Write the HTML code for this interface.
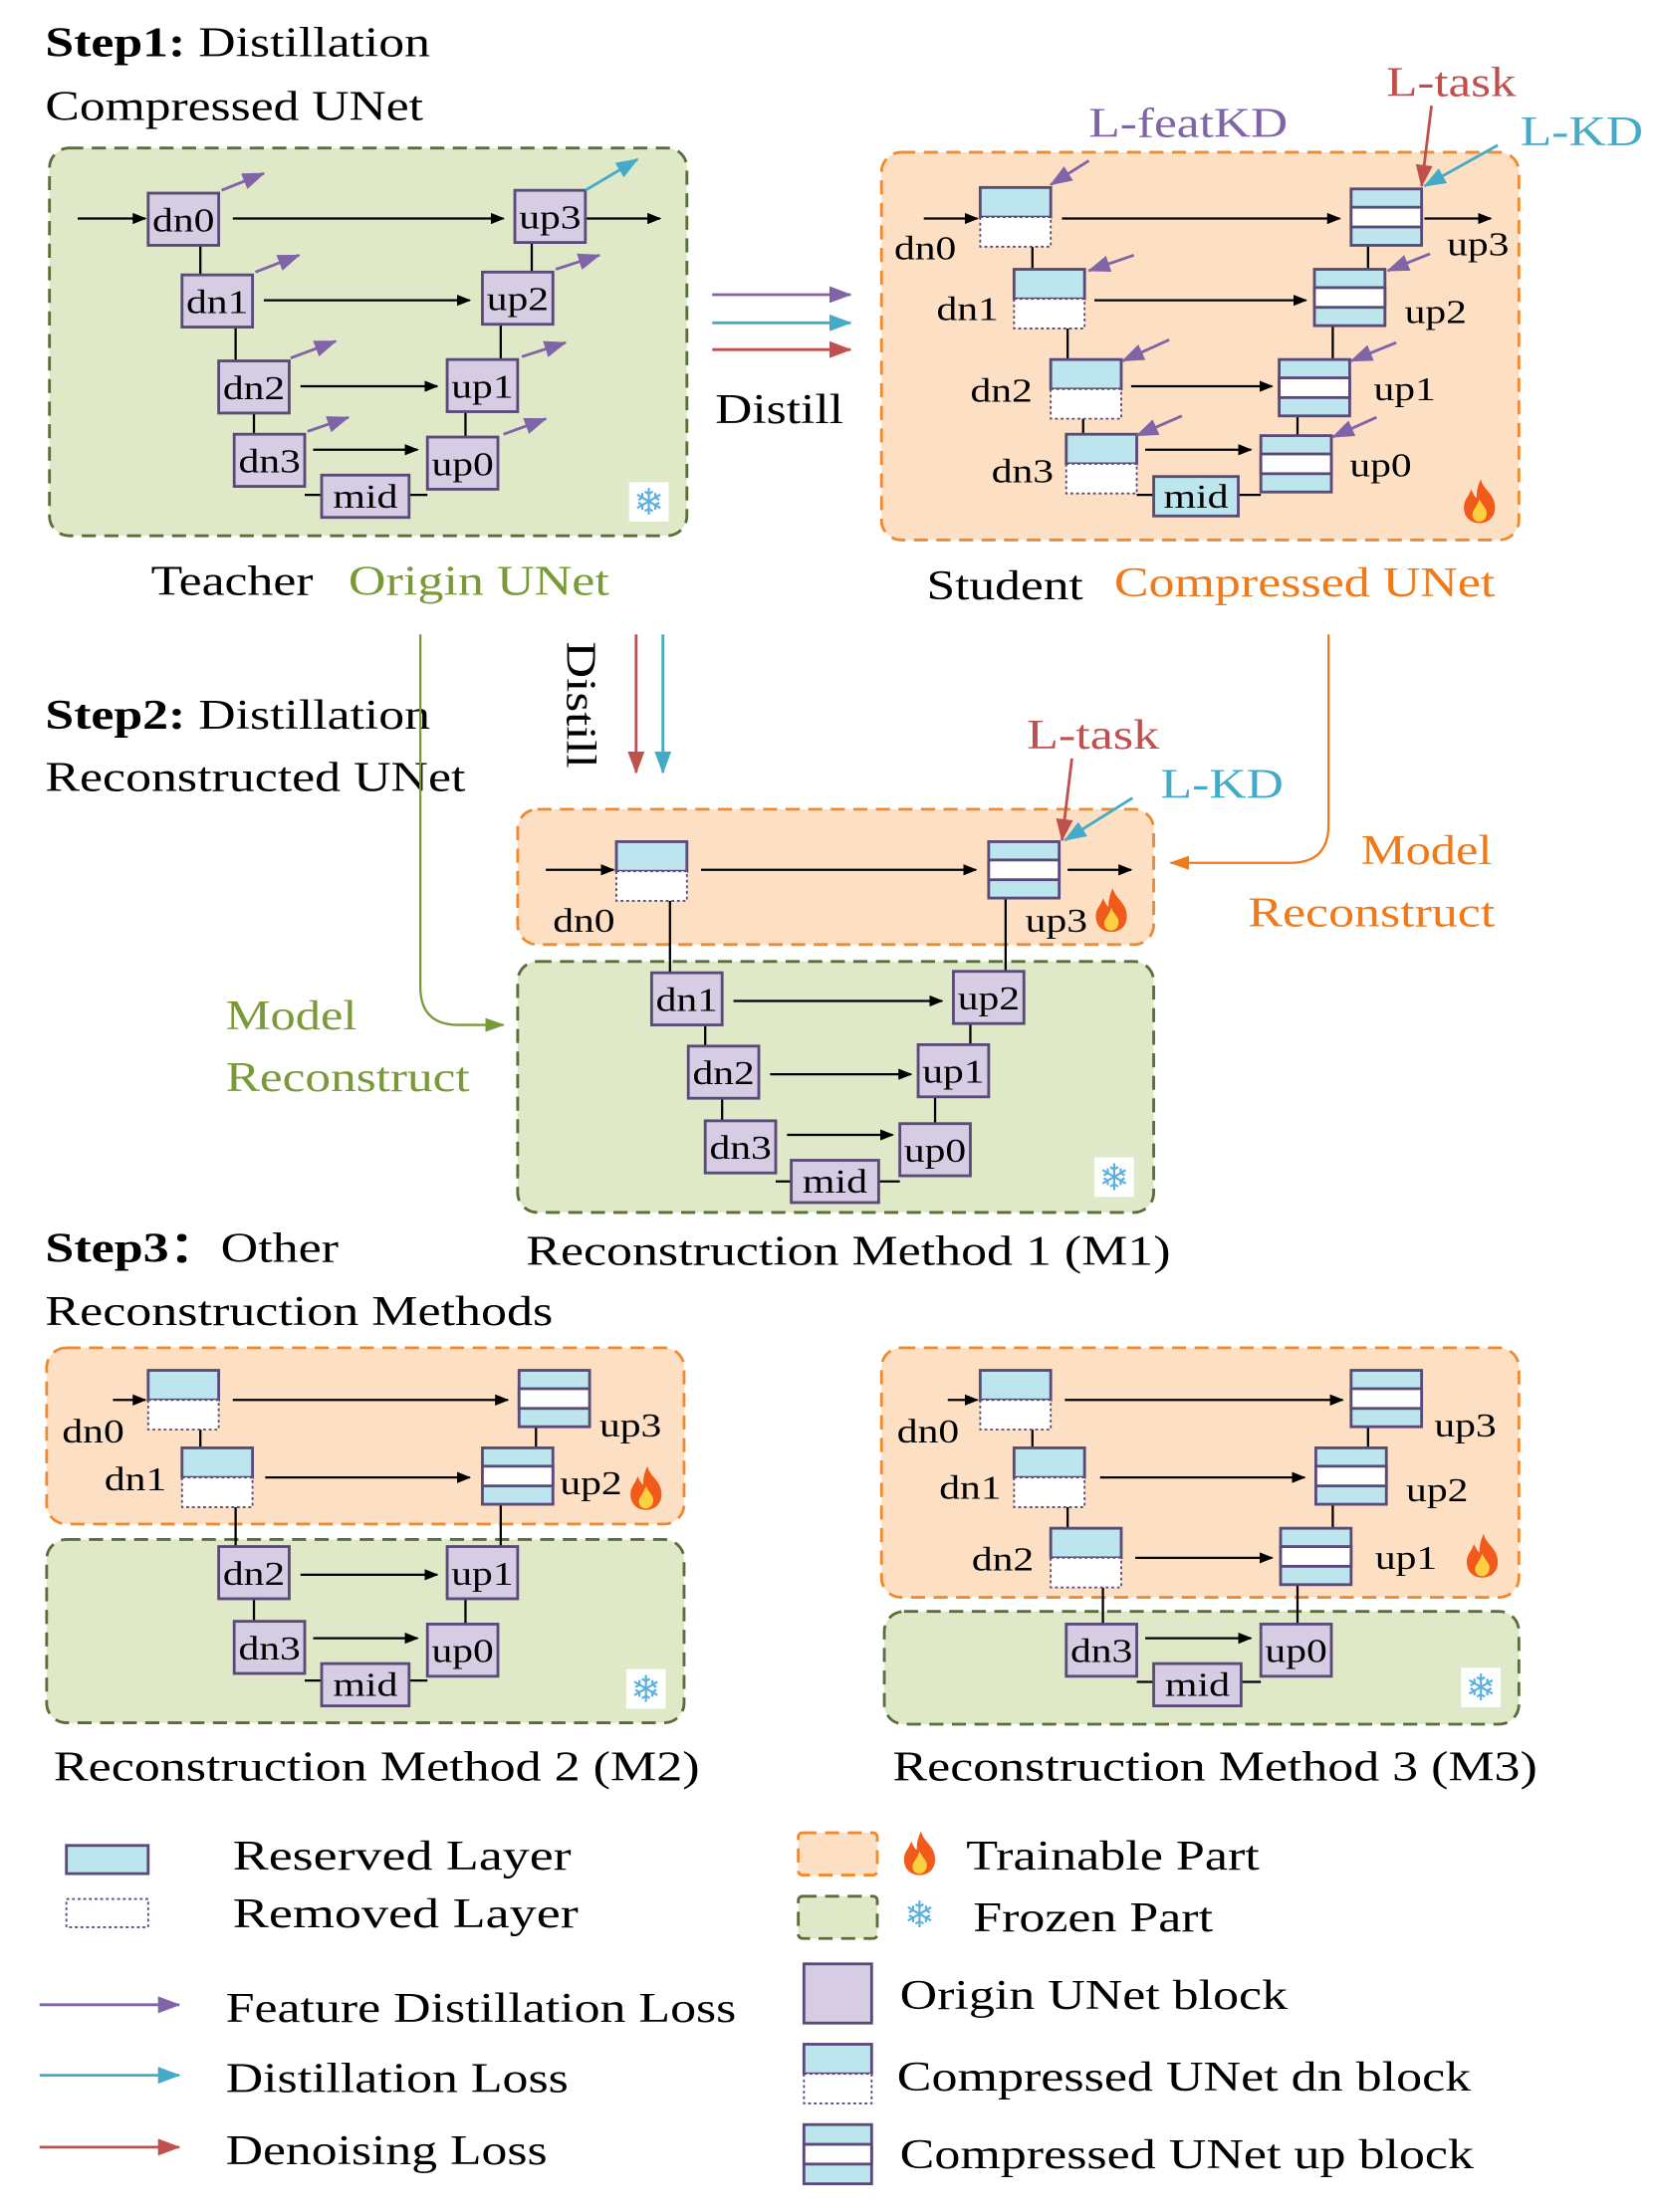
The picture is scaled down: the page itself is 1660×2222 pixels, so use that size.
<!DOCTYPE html>
<html><head><meta charset="utf-8"><style>html,body{margin:0;padding:0;background:#fff}svg{display:block}text{font-family:"Liberation Serif",serif}</style></head><body>
<svg width="1660" height="2222" viewBox="0 0 1172 1569" xmlns="http://www.w3.org/2000/svg">
<defs>
<marker id="ak" markerWidth="10" markerHeight="8" refX="9" refY="4" orient="auto" markerUnits="userSpaceOnUse"><path d="M0,0L10,4L0,8z" fill="#000"/></marker>
<marker id="ap" markerWidth="16" markerHeight="12" refX="15" refY="6" orient="auto" markerUnits="userSpaceOnUse"><path d="M0,0L16,6L0,12z" fill="#8064a8"/></marker>
<marker id="ac" markerWidth="16" markerHeight="12" refX="15" refY="6" orient="auto" markerUnits="userSpaceOnUse"><path d="M0,0L16,6L0,12z" fill="#44aac8"/></marker>
<marker id="ar" markerWidth="16" markerHeight="12" refX="15" refY="6" orient="auto" markerUnits="userSpaceOnUse"><path d="M0,0L16,6L0,12z" fill="#c0504d"/></marker>
<marker id="ag" markerWidth="14" markerHeight="10" refX="13" refY="5" orient="auto" markerUnits="userSpaceOnUse"><path d="M0,0L14,5L0,10z" fill="#7a9a3a"/></marker>
<marker id="ao" markerWidth="14" markerHeight="10" refX="13" refY="5" orient="auto" markerUnits="userSpaceOnUse"><path d="M0,0L14,5L0,10z" fill="#f07a1a"/></marker>
<g id="cd"><rect width="50" height="21" fill="#bde5ee" stroke="#5a4a78" stroke-width="2"/><rect y="21" width="50" height="21" fill="#fff" stroke="#5a4a78" stroke-width="1.3" stroke-dasharray="2,2"/></g>
<g id="cu"><rect width="50" height="40" fill="#bde5ee" stroke="#5a4a78" stroke-width="2"/><rect y="13" width="50" height="14" fill="#fff" stroke="#5a4a78" stroke-width="2"/></g>
<g id="fl"><path d="M12,0C14,8 22,10 22,20C22,27 17,31 11,31C5,31 0,27 0,20C0,14 4,12 5,7C7,11 8,13 9,13C9,8 10,4 12,0z" fill="#f05a1a"/><path d="M11,14C13,19 17,21 16,25C16,28 13,30 11,30C8,30 6,28 6,25C6,22 9,20 11,14z" fill="#fcd040"/></g>
<g id="sn"><rect x="-14" y="-14" width="28" height="28" fill="#fff"/><text x="0" y="9" font-size="26" text-anchor="middle" fill="#5ab0e0" style="font-family:'DejaVu Sans',sans-serif">❄</text></g>
</defs>
<style>.b{fill:#d6cde4;stroke:#5a4a78;stroke-width:2}.t{font-size:30px}.s{font-size:24px}.L{stroke:#000;stroke-width:1.6;fill:none}.A{stroke:#000;stroke-width:1.6;fill:none;marker-end:url(#ak)}.P{stroke:#8064a8;stroke-width:2;marker-end:url(#ap)}.C{stroke:#44aac8;stroke-width:2;marker-end:url(#ac)}.R{stroke:#c0504d;stroke-width:2;marker-end:url(#ar)}.O{fill:#fde0c4;stroke:#f08a30;stroke-width:2;stroke-dasharray:10,6}.G{fill:#dfe9c8;stroke:#5a6e3a;stroke-width:2;stroke-dasharray:10,6}</style>

<!-- Step1 headings -->
<text x="32" y="40" class="t" textLength="273" lengthAdjust="spacingAndGlyphs"><tspan font-weight="bold">Step1:</tspan> Distillation</text>
<text x="32" y="85" class="t" textLength="268" lengthAdjust="spacingAndGlyphs">Compressed UNet</text>

<!-- Teacher -->
<rect x="35" y="105" width="452" height="275" rx="14" class="G"/>
<path class="L" d="M142,174V195M167,232V256M180,293V308M216,351H228M290,351H303M377,172V193M355,230V255M330,292V310"/>
<path class="A" d="M55,155H103"/><path class="A" d="M165,155H357"/><path class="A" d="M415,155H468"/><path class="A" d="M187,213H333"/><path class="A" d="M213,274H310"/><path class="A" d="M222,319H296"/>
<rect x="105" y="137" width="50" height="37" class="b"/><text x="108" y="164" class="s" textLength="44" lengthAdjust="spacingAndGlyphs">dn0</text>
<rect x="129" y="195" width="50" height="37" class="b"/><text x="132" y="222" class="s" textLength="44" lengthAdjust="spacingAndGlyphs">dn1</text>
<rect x="155" y="256" width="50" height="37" class="b"/><text x="158" y="283" class="s" textLength="44" lengthAdjust="spacingAndGlyphs">dn2</text>
<rect x="166" y="308" width="50" height="37" class="b"/><text x="169" y="335" class="s" textLength="44" lengthAdjust="spacingAndGlyphs">dn3</text>
<rect x="228" y="337" width="62" height="30" class="b"/><text x="236" y="360" class="s" textLength="46" lengthAdjust="spacingAndGlyphs">mid</text>
<rect x="303" y="310" width="50" height="37" class="b"/><text x="306" y="337" class="s" textLength="44" lengthAdjust="spacingAndGlyphs">up0</text>
<rect x="317" y="255" width="50" height="37" class="b"/><text x="320" y="282" class="s" textLength="44" lengthAdjust="spacingAndGlyphs">up1</text>
<rect x="342" y="193" width="50" height="37" class="b"/><text x="345" y="220" class="s" textLength="44" lengthAdjust="spacingAndGlyphs">up2</text>
<rect x="365" y="135" width="50" height="37" class="b"/><text x="368" y="162" class="s" textLength="44" lengthAdjust="spacingAndGlyphs">up3</text>
<path class="P" d="M157,135L187,123"/><path class="P" d="M181,193L212,181"/><path class="P" d="M206,254L238,242"/><path class="P" d="M218,306L247,296"/><path class="P" d="M357,308L387,297"/><path class="P" d="M370,253L401,243"/><path class="P" d="M394,191L425,181"/>
<path class="C" d="M415,135L452,113"/>
<use href="#sn" x="460" y="356"/>
<text x="107" y="422" class="t" textLength="115" lengthAdjust="spacingAndGlyphs">Teacher</text><text x="247" y="422" class="t" fill="#7a9a3a" textLength="185" lengthAdjust="spacingAndGlyphs">Origin UNet</text>

<!-- distill arrows -->
<path class="P" d="M505,209H603"/><path class="C" d="M505,229H603"/><path class="R" d="M505,248H603"/>
<text x="507" y="300" class="t" textLength="91" lengthAdjust="spacingAndGlyphs">Distill</text>

<!-- Student -->
<rect x="625" y="108" width="452" height="275" rx="14" class="O"/>
<path class="L" d="M732,175V191M757,233V255M768,297V308M806,351H818M878,351H894M970,174V191M945,231V255M920,295V309"/>
<path class="A" d="M655,155H693"/><path class="A" d="M753,155H950"/><path class="A" d="M1010,155H1057"/><path class="A" d="M776,213H926"/><path class="A" d="M802,274H902"/><path class="A" d="M812,319H887"/>
<use href="#cd" x="695" y="133"/><use href="#cd" x="719" y="191"/><use href="#cd" x="745" y="255"/><use href="#cd" x="756" y="308"/>
<rect x="818" y="338" width="60" height="28" fill="#bde5ee" stroke="#5a4a78" stroke-width="2"/><text x="825" y="360" class="s" textLength="46" lengthAdjust="spacingAndGlyphs">mid</text>
<use href="#cu" x="958" y="134"/><use href="#cu" x="932" y="191"/><use href="#cu" x="907" y="255"/><use href="#cu" x="894" y="309"/>
<text x="634" y="184" class="s" textLength="44" lengthAdjust="spacingAndGlyphs">dn0</text><text x="664" y="227" class="s" textLength="44" lengthAdjust="spacingAndGlyphs">dn1</text><text x="688" y="285" class="s" textLength="44" lengthAdjust="spacingAndGlyphs">dn2</text><text x="703" y="342" class="s" textLength="44" lengthAdjust="spacingAndGlyphs">dn3</text>
<text x="1026" y="181" class="s" textLength="44" lengthAdjust="spacingAndGlyphs">up3</text><text x="996" y="229" class="s" textLength="44" lengthAdjust="spacingAndGlyphs">up2</text><text x="974" y="284" class="s" textLength="44" lengthAdjust="spacingAndGlyphs">up1</text><text x="957" y="338" class="s" textLength="44" lengthAdjust="spacingAndGlyphs">up0</text>
<path class="P" d="M772,114L745,131"/><path class="P" d="M804,181L772,192"/><path class="P" d="M829,241L796,256"/><path class="P" d="M838,295L806,309"/><path class="P" d="M1014,180L984,192"/><path class="P" d="M990,243L958,256"/><path class="P" d="M976,296L945,310"/>
<path class="R" d="M1015,75L1008,132"/><path class="C" d="M1062,103L1010,132"/>
<use href="#fl" x="1038" y="340"/>
<text x="772" y="97" class="t" fill="#8064a8" textLength="141" lengthAdjust="spacingAndGlyphs">L-featKD</text>
<text x="983" y="68" class="t" fill="#c0504d" textLength="92" lengthAdjust="spacingAndGlyphs">L-task</text>
<text x="1078" y="103" class="t" fill="#44aac8" textLength="87" lengthAdjust="spacingAndGlyphs">L-KD</text>
<text x="657" y="425" class="t" textLength="111" lengthAdjust="spacingAndGlyphs">Student</text><text x="790" y="423" class="t" fill="#f07a1a" textLength="270" lengthAdjust="spacingAndGlyphs">Compressed UNet</text>

<!-- Step2 -->
<text x="32" y="517" class="t" textLength="273" lengthAdjust="spacingAndGlyphs"><tspan font-weight="bold">Step2:</tspan> Distillation</text>
<text x="32" y="561" class="t" textLength="298" lengthAdjust="spacingAndGlyphs">Reconstructed UNet</text>
<path class="R" d="M451,450V548"/><path class="C" d="M470,450V548"/>
<text transform="translate(402,455) rotate(90)" class="t" textLength="90" lengthAdjust="spacingAndGlyphs">Distill</text>
<path d="M298,450V700Q298,727 325,727H357" stroke="#7a9a3a" stroke-width="1.6" fill="none" marker-end="url(#ag)"/>
<path d="M942,450V585Q942,612 915,612H830" stroke="#f07a1a" stroke-width="1.6" fill="none" marker-end="url(#ao)"/>
<text x="160" y="730" class="t" fill="#7a9a3a" textLength="93" lengthAdjust="spacingAndGlyphs">Model</text><text x="160" y="774" class="t" fill="#7a9a3a" textLength="173" lengthAdjust="spacingAndGlyphs">Reconstruct</text>
<text x="965" y="613" class="t" fill="#f07a1a" textLength="93" lengthAdjust="spacingAndGlyphs">Model</text><text x="885" y="657" class="t" fill="#f07a1a" textLength="175" lengthAdjust="spacingAndGlyphs">Reconstruct</text>
<text x="728" y="531" class="t" fill="#c0504d" textLength="94" lengthAdjust="spacingAndGlyphs">L-task</text><text x="823" y="566" class="t" fill="#44aac8" textLength="87" lengthAdjust="spacingAndGlyphs">L-KD</text>

<rect x="367" y="574" width="451" height="96" rx="14" class="O"/>
<rect x="367" y="682" width="451" height="178" rx="14" class="G"/>
<path class="R" d="M760,538L753,596"/><path class="C" d="M803,566L755,596"/>
<path class="L" d="M475,639V690M713,637V689M500,727V742M512,779V795M550,838H561M623,838H638M688,726V741M663,778V797"/>
<path class="A" d="M387,617H435"/><path class="A" d="M497,617H692"/><path class="A" d="M757,617H802"/><path class="A" d="M520,710H668"/><path class="A" d="M546,762H646"/><path class="A" d="M558,805H633"/>
<use href="#cd" x="437" y="597"/><use href="#cu" x="701" y="597"/>
<text x="392" y="661" class="s" textLength="44" lengthAdjust="spacingAndGlyphs">dn0</text><text x="727" y="661" class="s" textLength="44" lengthAdjust="spacingAndGlyphs">up3</text>
<use href="#fl" x="777" y="630"/>
<rect x="462" y="690" width="50" height="37" class="b"/><text x="465" y="717" class="s" textLength="44" lengthAdjust="spacingAndGlyphs">dn1</text>
<rect x="488" y="742" width="50" height="37" class="b"/><text x="491" y="769" class="s" textLength="44" lengthAdjust="spacingAndGlyphs">dn2</text>
<rect x="500" y="795" width="50" height="37" class="b"/><text x="503" y="822" class="s" textLength="44" lengthAdjust="spacingAndGlyphs">dn3</text>
<rect x="561" y="823" width="62" height="30" class="b"/><text x="569" y="846" class="s" textLength="46" lengthAdjust="spacingAndGlyphs">mid</text>
<rect x="638" y="797" width="50" height="37" class="b"/><text x="641" y="824" class="s" textLength="44" lengthAdjust="spacingAndGlyphs">up0</text>
<rect x="651" y="741" width="50" height="37" class="b"/><text x="654" y="768" class="s" textLength="44" lengthAdjust="spacingAndGlyphs">up1</text>
<rect x="676" y="689" width="50" height="37" class="b"/><text x="679" y="716" class="s" textLength="44" lengthAdjust="spacingAndGlyphs">up2</text>
<use href="#sn" x="790" y="835"/>
<text x="373" y="897" class="t" textLength="457" lengthAdjust="spacingAndGlyphs">Reconstruction Method 1 (M1)</text>

<!-- Step3 -->
<text x="32" y="895" class="t" textLength="208" lengthAdjust="spacingAndGlyphs"><tspan font-weight="bold">Step3：</tspan>Other</text>
<text x="32" y="940" class="t" textLength="360" lengthAdjust="spacingAndGlyphs">Reconstruction Methods</text>

<!-- M2 -->
<rect x="33" y="956" width="452" height="125" rx="14" class="O"/>
<rect x="33" y="1092" width="452" height="130" rx="14" class="G"/>
<path class="L" d="M142,1014V1027M167,1069V1097M180,1134V1150M216,1192H228M290,1192H303M380,1012V1027M355,1067V1097M330,1134V1152"/>
<path class="A" d="M80,993H103"/><path class="A" d="M165,993H360"/><path class="A" d="M188,1048H333"/><path class="A" d="M213,1117H310"/><path class="A" d="M222,1162H296"/>
<use href="#cd" x="105" y="972"/><use href="#cd" x="129" y="1027"/><use href="#cu" x="368" y="972"/><use href="#cu" x="342" y="1027"/>
<text x="44" y="1023" class="s" textLength="44" lengthAdjust="spacingAndGlyphs">dn0</text><text x="74" y="1057" class="s" textLength="44" lengthAdjust="spacingAndGlyphs">dn1</text><text x="425" y="1019" class="s" textLength="44" lengthAdjust="spacingAndGlyphs">up3</text><text x="397" y="1060" class="s" textLength="44" lengthAdjust="spacingAndGlyphs">up2</text>
<use href="#fl" x="447" y="1040"/>
<rect x="155" y="1097" width="50" height="37" class="b"/><text x="158" y="1124" class="s" textLength="44" lengthAdjust="spacingAndGlyphs">dn2</text>
<rect x="166" y="1150" width="50" height="37" class="b"/><text x="169" y="1177" class="s" textLength="44" lengthAdjust="spacingAndGlyphs">dn3</text>
<rect x="228" y="1180" width="62" height="30" class="b"/><text x="236" y="1203" class="s" textLength="46" lengthAdjust="spacingAndGlyphs">mid</text>
<rect x="303" y="1152" width="50" height="37" class="b"/><text x="306" y="1179" class="s" textLength="44" lengthAdjust="spacingAndGlyphs">up0</text>
<rect x="317" y="1097" width="50" height="37" class="b"/><text x="320" y="1124" class="s" textLength="44" lengthAdjust="spacingAndGlyphs">up1</text>
<use href="#sn" x="458" y="1198"/>
<text x="38" y="1263" class="t" textLength="458" lengthAdjust="spacingAndGlyphs">Reconstruction Method 2 (M2)</text>

<!-- M3 -->
<rect x="625" y="956" width="452" height="177" rx="14" class="O"/>
<rect x="627" y="1143" width="450" height="80" rx="14" class="G"/>
<path class="L" d="M732,1014V1027M757,1069V1084M782,1126V1152M806,1193H818M880,1193H894M970,1012V1027M945,1067V1084M920,1124V1152"/>
<path class="A" d="M672,993H693"/><path class="A" d="M755,993H952"/><path class="A" d="M780,1048H925"/><path class="A" d="M805,1105H902"/><path class="A" d="M812,1162H887"/>
<use href="#cd" x="695" y="972"/><use href="#cd" x="719" y="1027"/><use href="#cd" x="745" y="1084"/>
<use href="#cu" x="958" y="972"/><use href="#cu" x="933" y="1027"/><use href="#cu" x="908" y="1084"/>
<text x="636" y="1023" class="s" textLength="44" lengthAdjust="spacingAndGlyphs">dn0</text><text x="666" y="1063" class="s" textLength="44" lengthAdjust="spacingAndGlyphs">dn1</text><text x="689" y="1114" class="s" textLength="44" lengthAdjust="spacingAndGlyphs">dn2</text>
<text x="1017" y="1019" class="s" textLength="44" lengthAdjust="spacingAndGlyphs">up3</text><text x="997" y="1065" class="s" textLength="44" lengthAdjust="spacingAndGlyphs">up2</text><text x="975" y="1113" class="s" textLength="44" lengthAdjust="spacingAndGlyphs">up1</text>
<use href="#fl" x="1040" y="1088"/>
<rect x="756" y="1152" width="50" height="37" class="b"/><text x="759" y="1179" class="s" textLength="44" lengthAdjust="spacingAndGlyphs">dn3</text>
<rect x="818" y="1180" width="62" height="30" class="b"/><text x="826" y="1203" class="s" textLength="46" lengthAdjust="spacingAndGlyphs">mid</text>
<rect x="894" y="1152" width="50" height="37" class="b"/><text x="897" y="1179" class="s" textLength="44" lengthAdjust="spacingAndGlyphs">up0</text>
<use href="#sn" x="1050" y="1197"/>
<text x="633" y="1263" class="t" textLength="457" lengthAdjust="spacingAndGlyphs">Reconstruction Method 3 (M3)</text>

<!-- Legend -->
<rect x="47" y="1309" width="58" height="20" fill="#bde5ee" stroke="#5a4a78" stroke-width="2"/>
<rect x="47" y="1347" width="58" height="20" fill="#fff" stroke="#5a4a78" stroke-width="1.3" stroke-dasharray="2,2"/>
<text x="165" y="1326" class="t" textLength="240" lengthAdjust="spacingAndGlyphs">Reserved  Layer</text><text x="165" y="1367" class="t" textLength="245" lengthAdjust="spacingAndGlyphs">Removed  Layer</text>
<path class="P" d="M28,1422H127"/><path class="C" d="M28,1472H127"/><path class="R" d="M28,1523H127"/>
<text x="160" y="1434" class="t" textLength="362" lengthAdjust="spacingAndGlyphs">Feature Distillation Loss</text>
<text x="160" y="1484" class="t" textLength="243" lengthAdjust="spacingAndGlyphs">Distillation Loss</text>
<text x="160" y="1535" class="t" textLength="228" lengthAdjust="spacingAndGlyphs">Denoising Loss</text>
<rect x="566" y="1300" width="56" height="30" rx="3" class="O"/><use href="#fl" x="641" y="1299"/>
<text x="685" y="1326" class="t" textLength="208" lengthAdjust="spacingAndGlyphs">Trainable Part</text>
<rect x="566" y="1345" width="56" height="30" rx="3" class="G"/><use href="#sn" x="652" y="1358"/>
<text x="690" y="1370" class="t" textLength="170" lengthAdjust="spacingAndGlyphs">Frozen Part</text>
<rect x="570" y="1393" width="48" height="42" class="b"/><text x="638" y="1425" class="t" textLength="275" lengthAdjust="spacingAndGlyphs">Origin UNet block</text>
<rect x="570" y="1450" width="48" height="21" fill="#bde5ee" stroke="#5a4a78" stroke-width="2"/><rect x="570" y="1471" width="48" height="21" fill="#fff" stroke="#5a4a78" stroke-width="1.3" stroke-dasharray="2,2"/>
<text x="636" y="1483" class="t" textLength="407" lengthAdjust="spacingAndGlyphs">Compressed UNet dn block</text>
<rect x="570" y="1507" width="48" height="42" fill="#bde5ee" stroke="#5a4a78" stroke-width="2"/><rect x="570" y="1521" width="48" height="14" fill="#fff" stroke="#5a4a78" stroke-width="2"/>
<text x="638" y="1538" class="t" textLength="407" lengthAdjust="spacingAndGlyphs">Compressed UNet up block</text>
</svg>
</body></html>
